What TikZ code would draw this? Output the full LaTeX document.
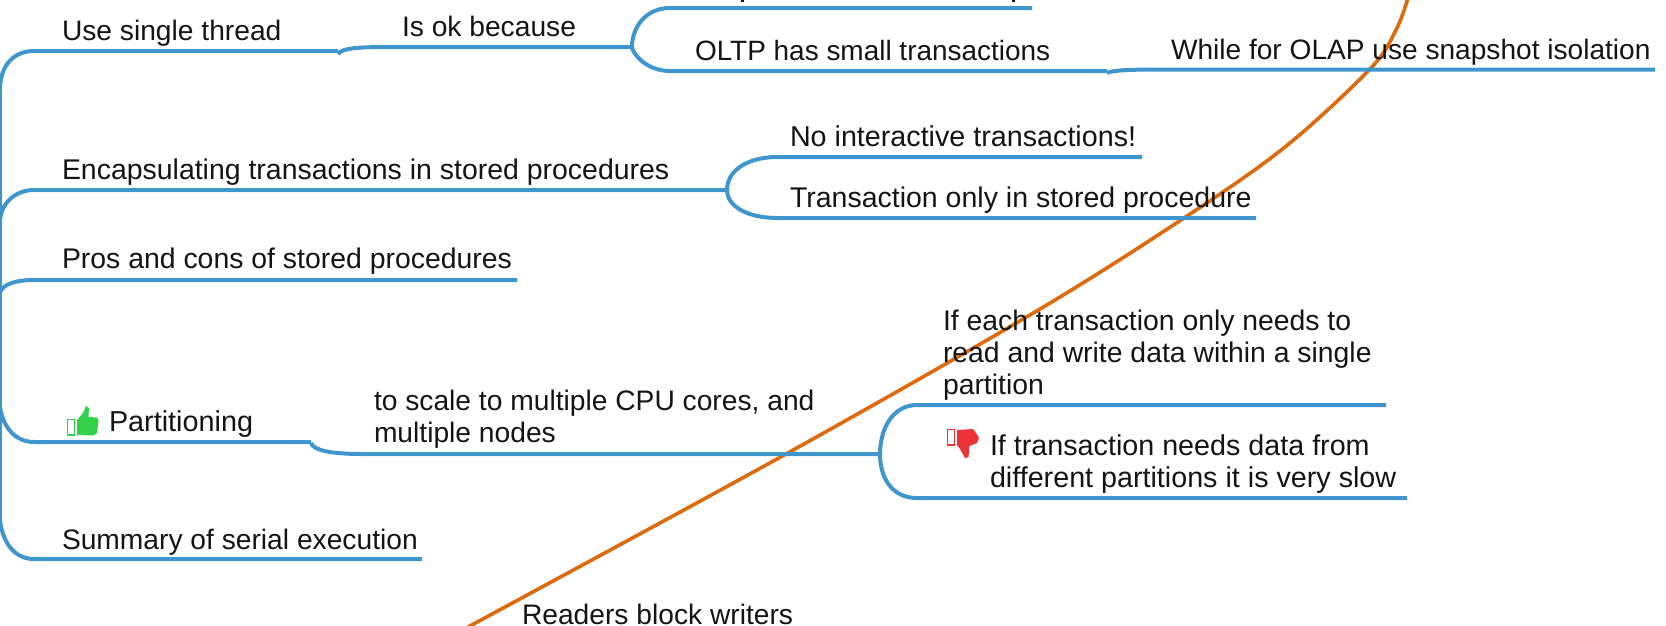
\documentclass[tikz,border=0pt]{standalone}
\usepackage{fontspec}
\setmainfont{Liberation Sans}
\definecolor{branch}{HTML}{3F96CE}
\definecolor{crossing}{HTML}{DD6A0C}
\definecolor{inktext}{HTML}{141414}
\definecolor{thumbgreen}{HTML}{33D14A}
\definecolor{thumbred}{HTML}{EE3338}
\tikzset{
  branchline/.style={draw=branch,line width=4pt,line cap=butt},
  label/.style={anchor=base west,inner sep=0pt,outer sep=0pt,text=inktext,font=\fontsize{28.2}{32}\selectfont,align=left},
  sized/.style={font=\fontsize{#1}{32}\selectfont},
}
\begin{document}
\begin{tikzpicture}[x=1pt,y=-1pt]
\useasboundingbox (0,0) rectangle (1666,625);
\clip (0,0) rectangle (1666,625);
% crossing curve
\coordinate (oa) at (468,627);
\coordinate (ob) at (786,454);
\coordinate (oc) at (1035,312);
\coordinate (od) at (1184,218);
\coordinate (oe) at (1285,147);
\coordinate (of) at (1370,69);
\coordinate (og) at (1396,30);
\coordinate (oh) at (1408,-2);
\draw[crossing,line width=3.6pt] plot[smooth,tension=0.55] coordinates {(oa)(ob)(oc)(od)(oe)(of)(og)(oh)};
% junction coordinates
\coordinate (t1) at (0,90);
\coordinate (t2) at (0,222);
\coordinate (t3) at (0,292);
\coordinate (t4) at (0,407);
\coordinate (t5) at (0,520);
\coordinate (u1) at (34,51);
\coordinate (u1e) at (338,51);
\coordinate (u2) at (34,190);
\coordinate (u2e) at (727,190);
\coordinate (u3) at (34,280);
\coordinate (u3e) at (517,280);
\coordinate (u4) at (34,442);
\coordinate (u4e) at (311,442);
\coordinate (u5) at (34,559);
\coordinate (u5e) at (422,559);
% trunk
\draw[draw=branch,line width=3.4pt] (0,85) -- (0,530);
% level one
\draw[branchline] (t1) .. controls (0,65) and (14,51) .. (u1) -- (u1e);
\draw[branchline] (t2) .. controls (0,205) and (14,190) .. (u2) -- (u2e);
\draw[branchline] (t3) .. controls (3,285) and (14,280) .. (u3) -- (u3e);
\draw[branchline] (t4) .. controls (3,428) and (16,442) .. (u4) -- (u4e);
\draw[branchline] (t5) .. controls (3,545) and (16,559) .. (u5) -- (u5e);
% single thread
\coordinate (ok1) at (338,54);
\coordinate (ok2) at (390,47);
\coordinate (okend) at (632,47);
\draw[branchline] (ok1) .. controls (342,48) and (358,47) .. (ok2) -- (okend);
\coordinate (br1a) at (670,8);
\coordinate (br1ae) at (1032,8);
\coordinate (br1b) at (670,71);
\coordinate (br1be) at (1107,71);
\draw[branchline] (br1ae) -- (br1a) .. controls (645,8) and (632,28) .. (okend) .. controls (632,52) and (645,71) .. (br1b) -- (br1be);
\coordinate (ol1) at (1107,73);
\coordinate (ol2) at (1160,69.5);
\coordinate (ol3) at (1655,69.5);
\draw[branchline] (ol1) .. controls (1112,70) and (1135,69.5) .. (ol2) -- (ol3);
% encapsulating
\coordinate (br2a) at (778,157);
\coordinate (br2ae) at (1142,157);
\coordinate (br2b) at (778,218);
\coordinate (br2be) at (1256,218);
\draw[branchline] (br2ae) -- (br2a) .. controls (745,157) and (727,172) .. (u2e) .. controls (727,205) and (745,218) .. (br2b) -- (br2be);
% partitioning
\coordinate (p1) at (311,443);
\coordinate (p2) at (362,454);
\coordinate (p3) at (880,454);
\draw[branchline] (p1) .. controls (313,450) and (330,454) .. (p2) -- (p3);
\coordinate (br3a) at (917,405);
\coordinate (br3ae) at (1386,405);
\coordinate (br3b) at (917,498);
\coordinate (br3be) at (1407,498);
\draw[branchline] (br3ae) -- (br3a) .. controls (892,405) and (880,430) .. (p3) .. controls (880,478) and (892,498) .. (br3b) -- (br3be);
% thumbs
\draw[thumbgreen,line width=1.6pt,fill=white] (67.5,419.5) rectangle (74.5,435);
\fill[thumbgreen] (77,435) -- (77,420) -- (83,413) -- (86,406) -- (89,408) -- (88.5,417) -- (97,417.5) -- (98.5,420) -- (97,433) -- (93,435.5) -- cycle;
\draw[thumbred,line width=1.6pt,fill=white] (947.5,429.5) rectangle (954.5,445);
\fill[thumbred] (957,430) -- (973,429) -- (976,433) -- (979,438) -- (977,443) -- (969.5,446) -- (968.5,457) -- (965,458) -- (960,449) -- (957,445) -- cycle;
% clipped descenders of the text above the top edge
\fill[inktext] (741,0) rectangle (744,1.6);
\fill[inktext] (1012,0) rectangle (1015,1.6);
% labels
\node[label] (single) at (62,40) {Use single thread};
\node[label] (isok) at (402,36) {Is ok because};
\node[label,sized=27.95] (oltp) at (695,60) {OLTP has small transactions};
\node[label,sized=28.1] (olap) at (1171,59) {While for OLAP use snapshot isolation};
\node[label,sized=28.45] (encap) at (62,179) {Encapsulating transactions in stored procedures};
\node[label,sized=28.7] (inter) at (790,146) {No interactive transactions!};
\node[label,sized=28.5] (only) at (790,207) {Transaction only in stored procedure};
\node[label,sized=28.4] (pros) at (62,268) {Pros and cons of stored procedures};
\node[label,sized=28.8] (parti) at (109,431) {Partitioning};
\node[label] (scale) at (374,442) {to scale to multiple CPU cores, and\\multiple nodes};
\node[label,sized=28.35] (each) at (943,394) {If each transaction only needs to\\read and write data within a single\\partition};
\node[label,sized=28.7] (slow) at (990,487) {If transaction needs data from\\different partitions it is very slow};
\node[label] (summ) at (62,549) {Summary of serial execution};
\node[label] (read) at (522,624) {Readers block writers};
\end{tikzpicture}
\end{document}
